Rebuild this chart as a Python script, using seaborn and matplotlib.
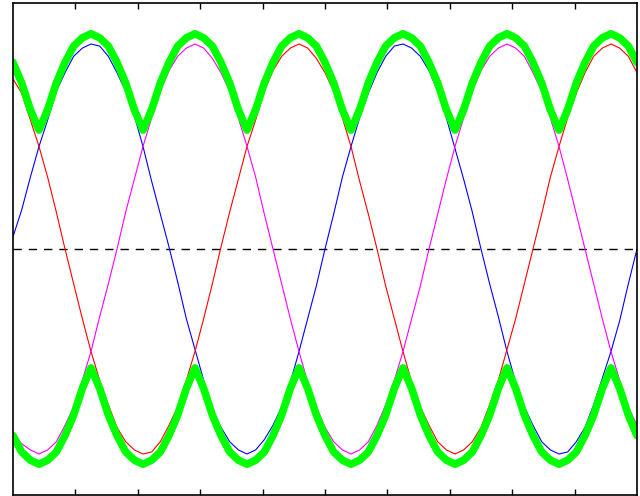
import numpy as np
import seaborn as sns
from matplotlib import pyplot as plt

# electrical angle in degrees, one sample every 10 deg over two periods
angle = np.arange(0, 721, 10)

phase_a = [0.06, 0.19, 0.35, 0.50, 0.63, 0.77, 0.86, 0.94, 0.98, 1.00, 0.99, 0.94,
           0.86, 0.77, 0.65, 0.50, 0.33, 0.17, 0.01, -0.16, -0.34, -0.49, -0.64, -0.78,
           -0.87, -0.94, -0.98, -1.00, -0.98, -0.93, -0.86, -0.77, -0.65, -0.50, -0.34, -0.18,
           0.00, 0.17, 0.35, 0.50, 0.64, 0.76, 0.86, 0.94, 0.99, 1.00, 0.98, 0.94,
           0.87, 0.77, 0.64, 0.49, 0.34, 0.18, 0.00, -0.17, -0.33, -0.50, -0.65, -0.77,
           -0.86, -0.94, -0.98, -1.00, -0.99, -0.94, -0.87, -0.76, -0.63, -0.50, -0.35, -0.17,
           0.00]
phase_b = [0.83, 0.76, 0.63, 0.50, 0.35, 0.18, 0.00, -0.17, -0.34, -0.50, -0.64, -0.76,
           -0.87, -0.94, -0.98, -1.00, -0.99, -0.94, -0.86, -0.77, -0.64, -0.50, -0.34, -0.17,
           0.01, 0.18, 0.34, 0.50, 0.63, 0.77, 0.87, 0.94, 0.98, 1.00, 0.98, 0.93,
           0.86, 0.77, 0.64, 0.50, 0.33, 0.17, 0.00, -0.18, -0.34, -0.50, -0.65, -0.77,
           -0.86, -0.94, -0.98, -1.00, -0.98, -0.94, -0.87, -0.76, -0.64, -0.49, -0.34, -0.17,
           0.00, 0.17, 0.35, 0.50, 0.64, 0.76, 0.86, 0.94, 0.98, 1.00, 0.98, 0.94,
           0.86]
phase_c = [-0.90, -0.95, -0.98, -1.00, -0.98, -0.94, -0.86, -0.77, -0.64, -0.50, -0.33, -0.17,
           0.00, 0.18, 0.34, 0.50, 0.64, 0.77, 0.87, 0.94, 0.98, 1.00, 0.98, 0.93,
           0.86, 0.77, 0.64, 0.50, 0.35, 0.17, 0.00, -0.17, -0.34, -0.50, -0.65, -0.77,
           -0.87, -0.94, -0.98, -1.00, -0.98, -0.94, -0.86, -0.76, -0.64, -0.50, -0.34, -0.18,
           0.00, 0.17, 0.34, 0.50, 0.64, 0.77, 0.87, 0.94, 0.98, 1.00, 0.98, 0.94,
           0.86, 0.77, 0.64, 0.50, 0.34, 0.17, 0.00, -0.17, -0.34, -0.50, -0.64, -0.77,
           -0.86]
upper_env = [0.91, 0.81, 0.68, 0.58, 0.68, 0.81, 0.91, 0.99, 1.03, 1.05, 1.03, 0.99,
             0.91, 0.81, 0.68, 0.58, 0.68, 0.81, 0.91, 0.99, 1.03, 1.05, 1.03, 0.99,
             0.91, 0.81, 0.68, 0.58, 0.68, 0.81, 0.91, 0.99, 1.03, 1.05, 1.03, 0.99,
             0.91, 0.81, 0.68, 0.58, 0.68, 0.81, 0.91, 0.99, 1.03, 1.05, 1.03, 0.99,
             0.91, 0.81, 0.68, 0.58, 0.68, 0.81, 0.91, 0.99, 1.03, 1.05, 1.03, 0.99,
             0.91, 0.81, 0.68, 0.58, 0.68, 0.81, 0.91, 0.99, 1.03, 1.05, 1.03, 0.99,
             0.91]
lower_env = [-0.91, -0.99, -1.03, -1.05, -1.03, -0.99, -0.91, -0.81, -0.68, -0.58, -0.68, -0.81,
             -0.91, -0.99, -1.03, -1.05, -1.03, -0.99, -0.91, -0.81, -0.68, -0.58, -0.68, -0.81,
             -0.91, -0.99, -1.03, -1.05, -1.03, -0.99, -0.91, -0.81, -0.68, -0.58, -0.68, -0.81,
             -0.91, -0.99, -1.03, -1.05, -1.03, -0.99, -0.91, -0.81, -0.68, -0.58, -0.68, -0.81,
             -0.91, -0.99, -1.03, -1.05, -1.03, -0.99, -0.91, -0.81, -0.68, -0.58, -0.68, -0.81,
             -0.91, -0.99, -1.03, -1.05, -1.03, -0.99, -0.91, -0.81, -0.68, -0.58, -0.68, -0.81,
             -0.91]

sns.set_style("white")
fig = plt.figure(figsize=(6.4, 4.96), dpi=100)
ax = fig.add_axes([13 / 640, 1 / 496, 624 / 640, 492 / 496])

ax.axhline(0, color="black", lw=1, ls=(0, (6, 5)))
sns.lineplot(x=angle, y=phase_a, color="#0000ff", lw=0.8, ax=ax)
sns.lineplot(x=angle, y=phase_b, color="#ff0000", lw=0.8, ax=ax)
sns.lineplot(x=angle, y=phase_c, color="#ff00ff", lw=0.8, ax=ax)
sns.lineplot(x=angle, y=upper_env, color="#00ff00", lw=5.5, ax=ax, solid_joinstyle="round", solid_capstyle="round")
sns.lineplot(x=angle, y=lower_env, color="#00ff00", lw=5.5, ax=ax, solid_joinstyle="round", solid_capstyle="round")

ax.set_xlim(0, 720)
ax.set_ylim(-1.2, 1.2)
ax.set_xticks(np.arange(72, 720, 72))
ax.set_yticks([])
ax.tick_params(axis="x", direction="in", length=4, width=1, top=True, bottom=True,
               labelbottom=False, color="black")
for s in ax.spines.values():
    s.set_color("black")
    s.set_linewidth(1.2)
ax.set_xlabel("")
ax.set_ylabel("")

fig.savefig("out.png", dpi=100)
